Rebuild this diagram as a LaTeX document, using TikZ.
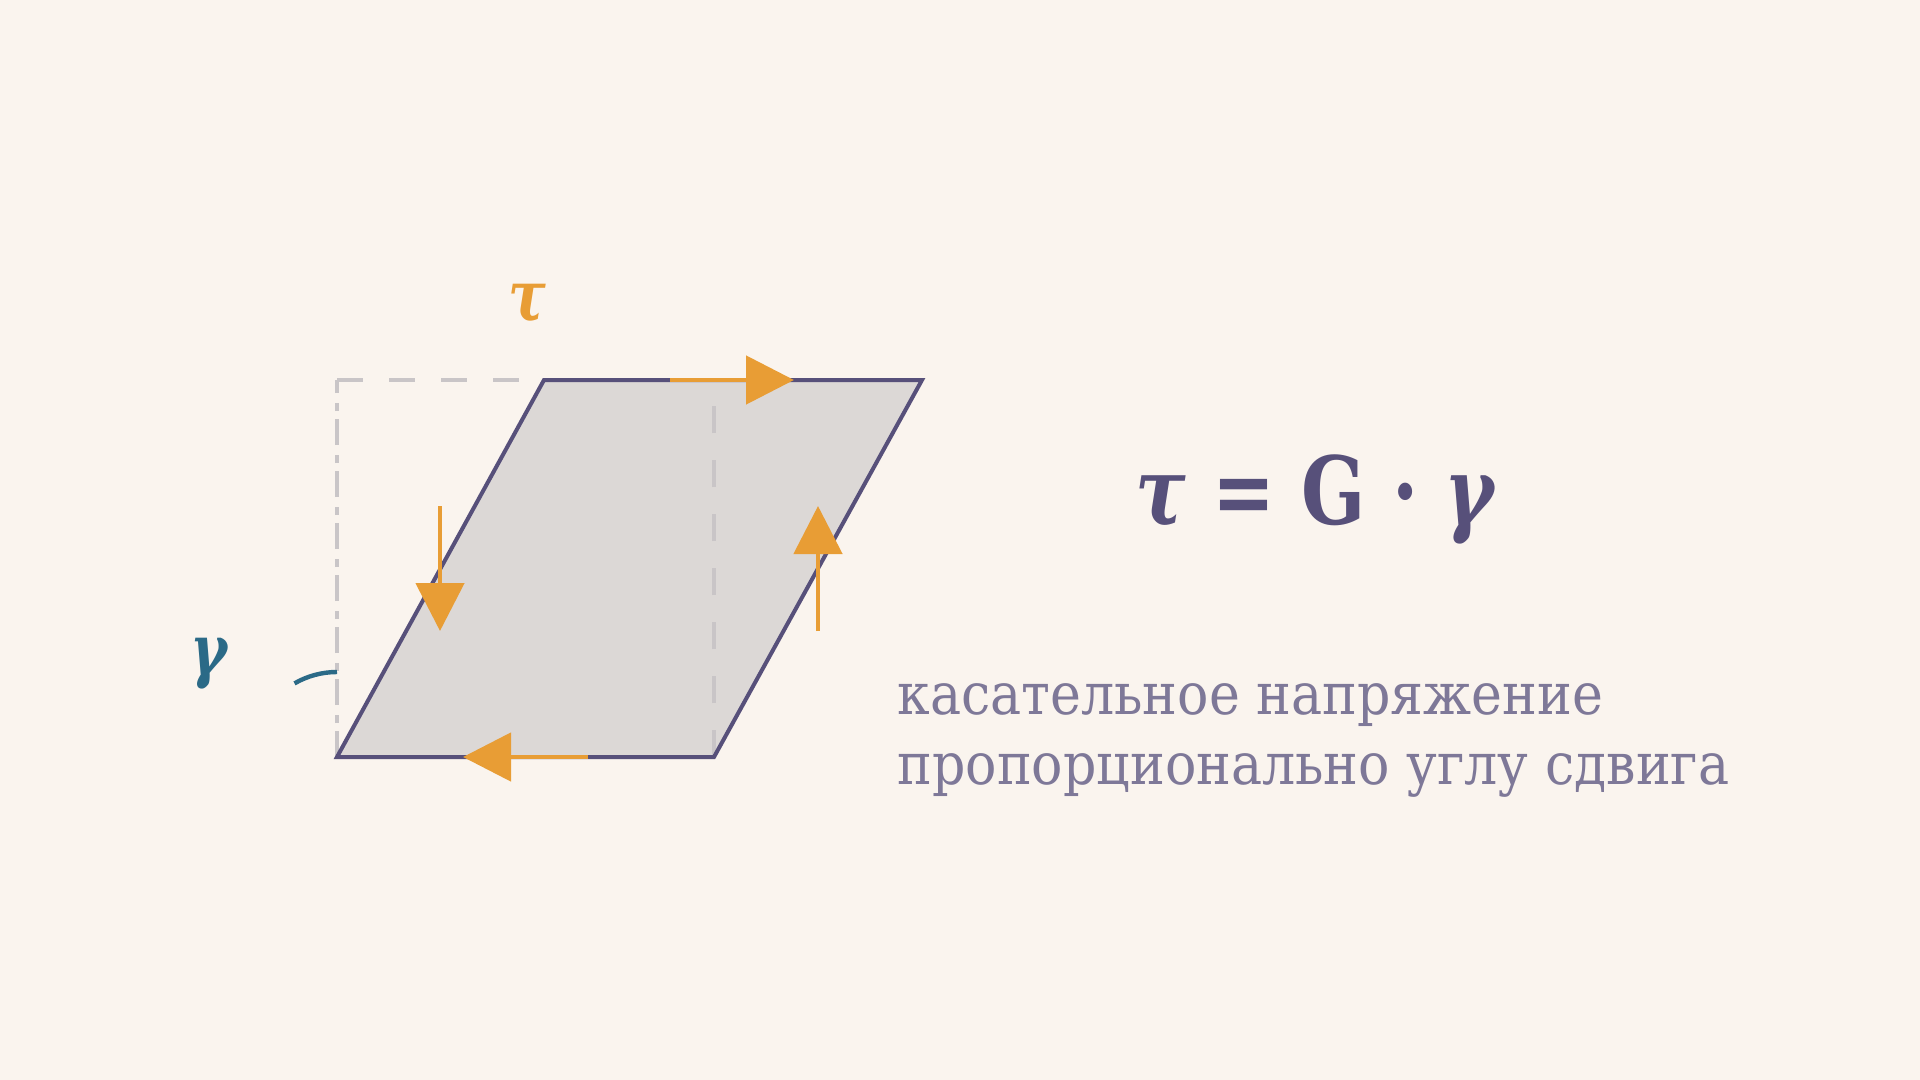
\documentclass[tikz,border=0pt]{standalone}
\usepackage{fontspec}
\setmainfont{DejaVu Serif}
\newfontfamily\capfont{DejaVu Serif}[FakeStretch=0.9]
\newfontfamily\lawfont{DejaVu Serif}[FakeStretch=0.8]
\usetikzlibrary{arrows.meta,positioning}
\definecolor{paper}{HTML}{FAF4EE}
\definecolor{plate}{HTML}{DCD8D6}
\definecolor{ink}{HTML}{57507A}
\definecolor{shearcol}{HTML}{E89D35}
\definecolor{anglecol}{HTML}{2B6A87}
\definecolor{guidegray}{HTML}{C9C5C7}
\definecolor{capgray}{HTML}{7E7898}
\tikzset{
  edge/.style={draw=ink, line width=2pt, line join=miter},
  shear/.style={draw=shearcol, line width=2.4pt, -{Triangle[length=24pt,width=24pt]}},
  guide/.style={draw=guidegray, line width=1.8pt},
}

\begin{document}
\begin{tikzpicture}[
  x=0.5pt, y=-0.5pt,
  % --- text styles ---
  symlabel/.style={inner sep=0pt, font=\lawfont\fontsize{35}{40}\selectfont\bfseries\itshape},
  lawtext/.style={inner sep=0pt, text=ink, font=\lawfont\fontsize{47}{56}\selectfont\bfseries},
  captext/.style={inner sep=0pt, anchor=base west, text=capgray, font=\capfont\fontsize{29}{35}\selectfont},
]

% --- Canvas ---
\fill[paper] (0,0) rectangle (1920,1080);
\useasboundingbox (0,0) rectangle (1920,1080);

% --- Geometry (pixel grid, y down) ---
\coordinate (bl) at (337,757);
\coordinate (br) at (714,757);
\coordinate (tr) at (922,380);
\coordinate (tl) at (544,380);
\coordinate (ul) at (337,380);   % corner of the undeformed square
\coordinate (ur) at (714,380);

% --- Sheared plate ---
\fill[plate] (bl) -- (br) -- (tr) -- (tl) -- cycle;

% undeformed outline (guides)
\draw[guide, dash pattern=on 13pt off 4pt on 4pt off 5pt] (bl) -- (ul);
\draw[guide, dash pattern=on 13pt off 13pt] (ul) -- (tl);
\draw[guide, dash pattern=on 13.5pt off 13.5pt] (br) -- (ur);

\draw[edge] (bl) -- (br) -- (tr) -- (tl) -- cycle;

% --- Shear stresses ---
\coordinate (topA) at (670,380);  \coordinate (topB) at (794,380);
\coordinate (botA) at (588,757);  \coordinate (botB) at (463,757);
\coordinate (lftA) at (440,506);  \coordinate (lftB) at (440,631);
\coordinate (rgtA) at (818,631);  \coordinate (rgtB) at (818,506);
\draw[shear] (topA) -- (topB);
\draw[shear] (botA) -- (botB);
\draw[shear] (lftA) -- (lftB);
\draw[shear] (rgtA) -- (rgtB);

\node[symlabel, text=shearcol] (taulabel) at (527,304) {τ};

% --- Shear angle ---
\coordinate (arcstart) at (337,672);
\draw[anglecol, line width=2.2pt] (arcstart) arc[start angle=-90, end angle=-120, radius=85];
\node[symlabel, text=anglecol] (gammalabel) at (209,664) {γ};

% --- Hooke's law in shear ---
\node[lawtext, anchor=base] (law) at (1315,524)
  {{\itshape τ} = G · {\itshape γ}};

\node[captext] (capA) at (897,714) {касательное напряжение};
\node[captext] (capB) at (897,784) {пропорционально углу сдвига};

\end{tikzpicture}
\end{document}
